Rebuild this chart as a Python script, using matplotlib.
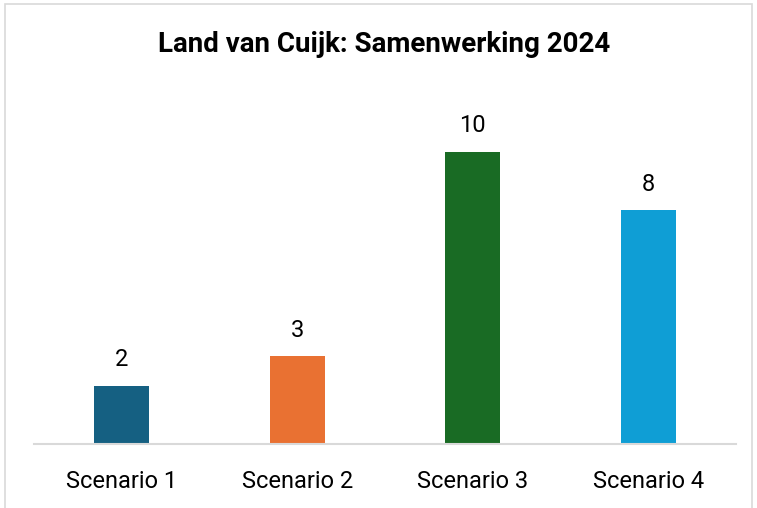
import matplotlib.pyplot as plt
from matplotlib.patches import Rectangle

categories = ["Scenario 1", "Scenario 2", "Scenario 3", "Scenario 4"]
values = [2, 3, 10, 8]
colors = ["#156082", "#E97132", "#196B24", "#0F9ED5"]

plt.rcParams['font.family'] = ['Roboto', 'DejaVu Sans']

fig = plt.figure(figsize=(7.57, 5.08), dpi=100)
ax = fig.add_axes([34 / 757, 64 / 508, 702 / 757, 350.4 / 508])

x = range(len(categories))
bars = ax.bar(x, values, width=0.314, color=colors, zorder=2)
for b, v in zip(bars, values):
    ax.text(b.get_x() + b.get_width() / 2, v + 0.5, str(v),
            ha='center', va='bottom', fontsize=17, color='#000000')

ax.set_xlim(-0.5, 3.5)
ax.set_ylim(0, 12)
ax.set_xticks(list(x))
ax.set_xticklabels(categories, fontsize=17, color='#000000')
ax.tick_params(axis='x', length=0, pad=19)
ax.set_yticks([])
for s in ['top', 'right', 'left']:
    ax.spines[s].set_visible(False)
ax.spines['bottom'].set_color('#D9D9D9')
ax.spines['bottom'].set_linewidth(1.5)

fig.text(384 / 757, 1 - 45 / 508, "Land van Cuijk: Samenwerking 2024",
         ha='center', va='center', fontsize=20, fontweight='bold')

# thin frame around the chart area
fig.patches.append(Rectangle((5 / 757, -0.01), 747 / 757, 1 - 4 / 508 + 0.01,
                             transform=fig.transFigure, fill=False,
                             edgecolor='#D9D9D9', linewidth=1.2))

fig.savefig("out.png", dpi=100)
